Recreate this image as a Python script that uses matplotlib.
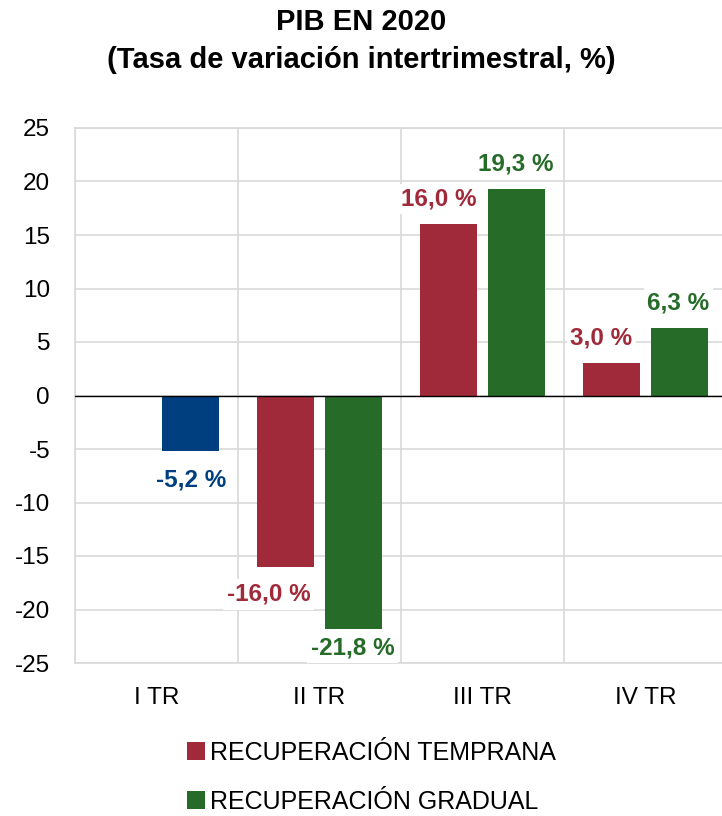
import matplotlib
matplotlib.use("Agg")
import matplotlib.pyplot as plt
import numpy as np
from matplotlib.patches import Patch

plt.rcParams['font.family'] = ['Liberation Sans', 'DejaVu Sans']

categories = ["I TR", "II TR", "III TR", "IV TR"]
temprana = [np.nan, -16.0, 16.0, 3.0]
gradual = [np.nan, -21.8, 19.3, 6.3]
primer_tr = [-5.2, np.nan, np.nan, np.nan]
yticks = [25, 20, 15, 10, 5, 0, -5, -10, -15, -20, -25]
series_labels = ["RECUPERACIÓN TEMPRANA", "RECUPERACIÓN GRADUAL"]

RED = "#A12A3A"
GREEN = "#266B28"
BLUE = "#003F7F"
GRID = "#D9D9D9"

fig = plt.figure(figsize=(7.22, 8.16), dpi=100)
ax = fig.add_axes([75/722, 1-663/816, 652/722, (663-128)/816])

x = np.arange(len(categories))
off = 0.21
w = 0.35
b_red = ax.bar(x - off, temprana, width=w, color=RED, zorder=3)
b_green = ax.bar(x + off, gradual, width=w, color=GREEN, zorder=3)
b_blue = ax.bar(x + off, primer_tr, width=w, color=BLUE, zorder=3)

ax.set_xlim(-0.5, 3.5)
ax.set_ylim(-25, 25)
ax.set_yticks(yticks)
ax.set_yticklabels([str(v) for v in yticks], fontsize=17.5)
ax.set_xticks(x)
ax.set_xticklabels(categories, fontsize=17.5)
ax.set_xticks(np.arange(-0.5, 4.0, 1.0), minor=True)
ax.tick_params(axis='both', which='both', length=0)
ax.tick_params(axis='y', pad=18)
ax.tick_params(axis='x', pad=17)
ax.grid(axis='y', which='major', color=GRID, linewidth=1.2, zorder=0)
ax.grid(axis='x', which='minor', color=GRID, linewidth=1.2, zorder=0)
for s in ax.spines.values():
    s.set_color(GRID)
    s.set_linewidth(1.2)
ax.axhline(0, color='black', linewidth=1.0, zorder=4)

def lab(xv, yv, color, dx, dy):
    txt = f"{yv:.1f} %".replace('.', ',')
    ax.annotate(txt, xy=(xv, yv), xytext=(dx, dy), textcoords='offset points',
                ha='center', va='center', fontsize=17.5, fontweight='bold', color=color,
                bbox=dict(boxstyle='square,pad=0.15', fc='white', ec='none'), zorder=5)

for i in range(len(categories)):
    if not np.isnan(temprana[i]):
        dy = 18 if temprana[i] > 0 else -20
        lab(x[i] - off, temprana[i], RED, -7 if i > 1 else -12, dy)
    if not np.isnan(gradual[i]):
        dy = 18 if gradual[i] > 0 else -14
        lab(x[i] + off, gradual[i], GREEN, -1, dy)
    if not np.isnan(primer_tr[i]):
        lab(x[i] + off, primer_tr[i], BLUE, 0, -21)

fig.text(0.5, 1-22/816, "PIB EN 2020", ha='center', va='center', fontsize=21, fontweight='bold')
fig.text(0.5, 1-60/816, "(Tasa de variación intertrimestral, %)", ha='center', va='center',
         fontsize=21, fontweight='bold')

handles = [Patch(facecolor=RED, edgecolor='none'), Patch(facecolor=GREEN, edgecolor='none')]
fig.legend(handles, series_labels, loc='upper left', bbox_to_anchor=(187/722, 1-741/816),
           frameon=False, fontsize=18, handlelength=0.72, handleheight=0.72,
           handletextpad=0.2, labelspacing=1.0, borderpad=0, borderaxespad=0)

fig.savefig("out.png", dpi=100)
